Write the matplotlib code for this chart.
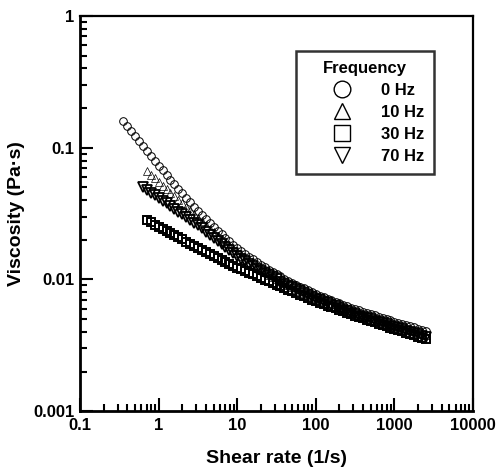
import numpy as np
import matplotlib

matplotlib.use('Agg')
import matplotlib.pyplot as plt
from matplotlib.lines import Line2D

plt.rcParams['font.family'] = ['Liberation Sans', 'DejaVu Sans']
plt.rcParams['font.weight'] = 'bold'

# shear rate (1/s), log-spaced steps of the rheometer run
shear_rate = [0.355, 0.398, 0.447, 0.501, 0.562, 0.631, 0.708, 0.794, 0.891,
              1.00, 1.12, 1.26, 1.41, 1.58, 1.78, 2.00, 2.24, 2.51, 2.82, 3.16,
              3.55, 3.98, 4.47, 5.01, 5.62, 6.31, 7.08, 7.94, 8.91,
              10.0, 11.2, 12.6, 14.1, 15.8, 17.8, 20.0, 22.4, 25.1, 28.2, 31.6,
              35.5, 39.8, 44.7, 50.1, 56.2, 63.1, 70.8, 79.4, 89.1,
              100, 112, 126, 141, 158, 178, 200, 224, 251, 282, 316,
              355, 398, 447, 501, 562, 631, 708, 794, 891,
              1000, 1122, 1259, 1413, 1585, 1778, 1995, 2239, 2512]

# log10 of viscosity (Pa.s)
log_visc_0hz = [-0.800, -0.837, -0.874, -0.912, -0.949, -0.986, -1.023, -1.061, -1.098,
                -1.135, -1.171, -1.207, -1.242, -1.277, -1.312, -1.346, -1.380, -1.414, -1.447,
                -1.480, -1.512, -1.543, -1.573, -1.602, -1.630, -1.658, -1.685, -1.711, -1.736,
                -1.760, -1.783, -1.805, -1.827, -1.848, -1.868, -1.888, -1.907, -1.925, -1.943,
                -1.960, -1.977, -1.993, -2.009, -2.024, -2.039, -2.054, -2.068, -2.082, -2.096,
                -2.110, -2.122, -2.134, -2.146, -2.157, -2.169, -2.180, -2.192, -2.203, -2.214,
                -2.225, -2.235, -2.244, -2.254, -2.263, -2.273, -2.282, -2.292, -2.301, -2.311,
                -2.320, -2.329, -2.338, -2.346, -2.355, -2.364, -2.373, -2.381, -2.390]

log_visc_10hz = [-1.180, -1.207, -1.233,
                 -1.260, -1.287, -1.314, -1.341, -1.368, -1.395, -1.422, -1.449, -1.476, -1.503,
                 -1.530, -1.558, -1.586, -1.614, -1.641, -1.668, -1.695, -1.721, -1.747, -1.774,
                 -1.800, -1.824, -1.847, -1.869, -1.890, -1.910, -1.929, -1.947, -1.964, -1.980,
                 -1.995, -2.011, -2.026, -2.041, -2.056, -2.071, -2.085, -2.099, -2.113, -2.127,
                 -2.140, -2.152, -2.164, -2.176, -2.188, -2.200, -2.212, -2.224, -2.236, -2.248,
                 -2.260, -2.269, -2.278, -2.287, -2.296, -2.305, -2.314, -2.323, -2.332, -2.341,
                 -2.350, -2.359, -2.368, -2.376, -2.385, -2.394, -2.403, -2.411, -2.420]

log_visc_30hz = [-1.550, -1.567, -1.583,
                 -1.600, -1.616, -1.632, -1.648, -1.664, -1.680, -1.696, -1.712, -1.728, -1.744,
                 -1.760, -1.775, -1.790, -1.805, -1.820, -1.835, -1.850, -1.865, -1.880, -1.895,
                 -1.910, -1.923, -1.936, -1.949, -1.962, -1.975, -1.988, -2.001, -2.014, -2.027,
                 -2.040, -2.053, -2.065, -2.078, -2.090, -2.103, -2.115, -2.128, -2.140, -2.153,
                 -2.165, -2.176, -2.187, -2.198, -2.209, -2.220, -2.231, -2.242, -2.253, -2.264,
                 -2.275, -2.285, -2.295, -2.305, -2.315, -2.325, -2.335, -2.345, -2.355, -2.365,
                 -2.375, -2.385, -2.395, -2.405, -2.415, -2.425, -2.435, -2.445, -2.455]

log_visc_70hz = [-1.300, -1.320, -1.340, -1.360,
                 -1.380, -1.401, -1.422, -1.443, -1.464, -1.485, -1.506, -1.527, -1.548, -1.569,
                 -1.590, -1.613, -1.636, -1.659, -1.682, -1.705, -1.728, -1.751, -1.774, -1.797,
                 -1.820, -1.841, -1.861, -1.881, -1.900, -1.918, -1.936, -1.953, -1.969, -1.985,
                 -2.000, -2.016, -2.031, -2.046, -2.061, -2.076, -2.090, -2.104, -2.118, -2.132,
                 -2.145, -2.157, -2.169, -2.181, -2.193, -2.205, -2.217, -2.229, -2.241, -2.253,
                 -2.265, -2.275, -2.284, -2.294, -2.303, -2.313, -2.322, -2.332, -2.341, -2.351,
                 -2.360, -2.369, -2.379, -2.388, -2.398, -2.407, -2.416, -2.426, -2.435]

x_ticks = [0.1, 1, 10, 100, 1000, 10000]
x_tick_labels = ['0.1', '1', '10', '100', '1000', '10000']
y_ticks = [0.001, 0.01, 0.1, 1]
y_tick_labels = ['0.001', '0.01', '0.1', '1']

# (values, marker, size, edge width); each series ends at the last shear rate
series = [
    (log_visc_30hz, 's', 6.0, 1.4),
    (log_visc_70hz, 'v', 6.5, 1.3),
    (log_visc_10hz, '^', 5.5, 0.5),
    (log_visc_0hz, 'o', 5.5, 0.7),
]

fig = plt.figure(figsize=(5.01, 4.71), dpi=100)
ax = fig.add_axes([0.160, 0.127, 0.784, 0.839])

for logv, marker, ms, mew in series:
    start = len(shear_rate) - len(logv)
    x = shear_rate[start:]
    y = 10 ** np.array(logv)
    ax.plot(x, y, linestyle='none', marker=marker, ms=ms, mew=mew,
            mfc='none', mec='black')

ax.set_xscale('log')
ax.set_yscale('log')
ax.set_xlim(0.1, 10000)
ax.set_ylim(0.001, 1)
ax.set_xticks(x_ticks)
ax.set_xticklabels(x_tick_labels)
ax.set_yticks(y_ticks)
ax.set_yticklabels(y_tick_labels)

ax.tick_params(which='both', direction='in', top=False, right=False,
               labelsize=12, width=1.5)
ax.tick_params(which='major', length=9.5)
ax.tick_params(which='minor', length=5)
ax.tick_params(axis='x', pad=5)
ax.tick_params(axis='y', pad=4)
for side in ['left', 'bottom']:
    ax.spines[side].set_linewidth(2.0)
for side in ['top', 'right']:
    ax.spines[side].set_linewidth(1.6)

ax.set_xlabel('Shear rate (1/s)', fontsize=14, fontweight='bold', labelpad=12)
ax.set_ylabel('Viscosity (Pa·s)', fontsize=14, fontweight='bold', labelpad=6)

handles = [Line2D([], [], linestyle='none', marker=m, ms=12, mfc='none',
                  mec='black', mew=1.0)
           for m in ['o', '^', 's', 'v']]
leg = ax.legend(handles, ['0 Hz', '10 Hz', '30 Hz', '70 Hz'],
                title='Frequency', loc='upper left',
                bbox_to_anchor=(0.549, 0.912), borderaxespad=0,
                frameon=True, fancybox=False,
                edgecolor='black', borderpad=0.6, labelspacing=0.42,
                handletextpad=0.2, handlelength=4.3,
                prop={'size': 12, 'weight': 'bold'})
leg.get_frame().set_linewidth(1.8)
leg.get_title().set_fontsize(12)
leg.get_title().set_fontweight('bold')

fig.savefig('out.png', dpi=100)
